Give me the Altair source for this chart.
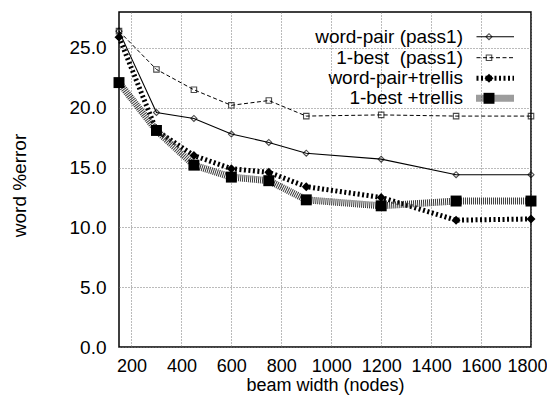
import altair as alt
import pandas as pd

beam = [150, 300, 450, 600, 750, 900, 1200, 1500, 1800]
wp_pass1 = [26.4, 19.6, 19.1, 17.8, 17.1, 16.2, 15.7, 14.4, 14.4]
b1_pass1 = [26.4, 23.2, 21.5, 20.2, 20.6, 19.3, 19.4, 19.3, 19.3]
wp_trellis = [25.9, 18.1, 16.0, 14.9, 14.6, 13.4, 12.5, 10.6, 10.7]
b1_trellis = [22.1, 18.1, 15.2, 14.2, 13.9, 12.3, 11.8, 12.2, 12.2]

names = ["word-pair (pass1)", "1-best\u00a0 (pass1)", "word-pair+trellis", "1-best +trellis"]
series = [wp_pass1, b1_pass1, wp_trellis, b1_trellis]

x_ticks = [200, 400, 600, 800, 1000, 1200, 1400, 1600, 1800]
y_ticks = [0, 5, 10, 15, 20, 25]

FONT = "Liberation Sans"
FS = 19

styles = [
    dict(line=dict(color="black", strokeWidth=1.1),
         point=dict(shape="diamond", size=36, filled=False, color="black", strokeWidth=1.1)),
    dict(line=dict(color="black", strokeWidth=1, strokeDash=[4, 2.5]),
         point=dict(shape="square", size=30, filled=False, color="black", strokeWidth=1.1)),
    dict(line=dict(color="black", strokeWidth=5, strokeDash=[2, 2.5]),
         point=dict(shape="diamond", size=80, filled=True, color="black", opacity=1)),
    dict(line=dict(color="#3a3a3a", strokeWidth=7, strokeDash=[1, 1]),
         point=dict(shape="square", size=120, filled=True, color="black", opacity=1)),
]

xscale = alt.Scale(domain=[150, 1800], nice=False, zero=False)
yscale = alt.Scale(domain=[0, 28], nice=False)

layers = []
for name, vals, st in zip(names, series, styles):
    df = pd.DataFrame({"beam": beam, "err": vals, "series": name})
    base = alt.Chart(df).encode(
        x=alt.X("beam:Q", scale=xscale,
                axis=alt.Axis(values=x_ticks, title="beam width (nodes)", format="d",
                              titleX=206, titleY=43, titleBaseline="alphabetic",
                              titleFontSize=18,
                              labelPadding=10, labelOverlap=False,
                              labelFlush=True, labelFlushOffset=16,
                              labelFontSize=18)),
        y=alt.Y("err:Q", scale=yscale,
                axis=alt.Axis(values=y_ticks, title="word %error", format=".1f",
                              titleX=-94, titleY=173, titleAngle=270,
                              titleBaseline="alphabetic", titleAlign="center",
                              labelPadding=13, labelOverlap=False, labelFlush=False)),
    )
    layers.append(base.mark_line(**st["line"]))
    layers.append(base.mark_point(**st["point"]))

# legend (top right, text right-aligned, sample on the right)
row_y = [24.7, 45.7, 66.3, 86.3]
for name, st, ry in zip(names, styles, row_y):
    ldf = pd.DataFrame({"label": [name]})
    lc = alt.Chart(ldf)
    layers.append(lc.mark_text(align="right", baseline="middle", font=FONT,
                               fontSize=FS, color="black").encode(
        text="label:N", x=alt.value(344), y=alt.value(ry)))
    layers.append(lc.mark_rule(**st["line"]).encode(
        x=alt.value(357.5), x2=alt.value(395), y=alt.value(ry)))
    layers.append(lc.mark_point(**st["point"]).encode(
        x=alt.value(370), y=alt.value(ry)))

chart = alt.layer(*layers).properties(
    width=412, height=335,
    autosize=alt.AutoSizeParams(type="none"),
    padding={"left": 111, "top": 4, "right": 16, "bottom": 50},
).configure_view(
    stroke="black", strokeWidth=1.5
).configure_axis(
    labelFont=FONT, titleFont=FONT, labelFontSize=FS, titleFontSize=FS,
    titleFontWeight="normal", labelColor="black", titleColor="black",
    domain=False, ticks=False, grid=True, gridColor="#777",
    gridDash=[1, 2], gridWidth=1, gridOpacity=1,
)

chart.save("out.html", embed_options={"renderer": "svg", "actions": False})
